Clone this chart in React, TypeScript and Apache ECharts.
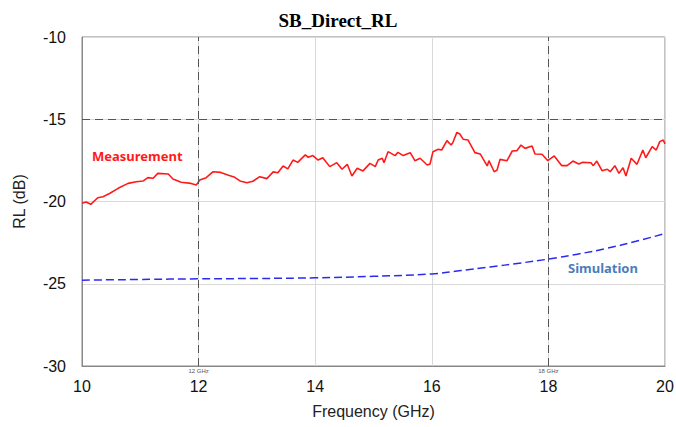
import React, { useEffect, useRef } from "react";
import * as echarts from "echarts";

const title = "SB_Direct_RL";
const xName = "Frequency (GHz)";
const yName = "RL (dB)";

const measFreq = [
  10.0, 10.07, 10.15, 10.27, 10.36, 10.48, 10.62, 10.79, 10.93, 11.05, 11.13, 11.22, 11.3, 11.48, 11.56,
  11.7, 11.87, 11.96, 12.02, 12.13, 12.25, 12.38, 12.5, 12.62, 12.71, 12.83, 12.93, 13.05, 13.17, 13.28,
  13.36, 13.45, 13.53, 13.62, 13.7, 13.83, 13.88, 13.96, 14.05, 14.13, 14.25, 14.37, 14.46, 14.55, 14.63,
  14.72, 14.82, 14.94, 15.03, 15.08, 15.15, 15.18, 15.25, 15.37, 15.42, 15.51, 15.63, 15.71, 15.8, 15.92,
  15.97, 16.02, 16.11, 16.17, 16.26, 16.33, 16.36, 16.43, 16.48, 16.54, 16.62, 16.74, 16.83, 16.95, 16.98,
  17.07, 17.12, 17.17, 17.29, 17.38, 17.46, 17.53, 17.6, 17.72, 17.77, 17.89, 17.99, 18.1, 18.23, 18.32,
  18.42, 18.52, 18.59, 18.73, 18.77, 18.83, 18.92, 19.01, 19.06, 19.14, 19.21, 19.28, 19.33, 19.42, 19.52,
  19.62, 19.67, 19.78, 19.85, 19.91, 19.97, 20.0,
];
const measRL = [
  -20.1, -20.03, -20.17, -19.77, -19.71, -19.5, -19.2, -18.9, -18.8, -18.75, -18.55, -18.59, -18.29, -18.33, -18.63,
  -18.83, -18.9, -19.0, -18.7, -18.55, -18.19, -18.23, -18.39, -18.53, -18.75, -18.86, -18.77, -18.49, -18.61, -18.2,
  -18.25, -17.84, -18.02, -17.48, -17.62, -17.17, -17.31, -17.21, -17.48, -17.34, -17.88, -17.64, -18.04, -17.74, -18.45,
  -17.98, -18.14, -17.68, -17.88, -17.48, -17.37, -17.64, -16.97, -17.21, -17.01, -17.21, -17.03, -17.52, -17.37, -17.78,
  -17.72, -16.97, -16.83, -16.87, -16.3, -16.57, -16.43, -15.8, -15.9, -16.22, -16.26, -17.03, -17.11, -17.84, -17.52,
  -18.19, -18.09, -17.44, -17.52, -16.93, -16.91, -16.57, -16.77, -16.63, -17.11, -17.13, -17.52, -17.23, -17.82, -17.82,
  -17.54, -17.72, -17.62, -17.64, -17.82, -17.54, -18.13, -18.04, -18.19, -17.82, -18.29, -17.95, -18.45, -17.37, -17.74,
  -16.87, -17.34, -16.67, -16.87, -16.36, -16.26, -16.5,
];

const simFreq = [10, 11, 12, 13, 14, 15, 16, 16.5, 17, 17.5, 18, 18.5, 19, 19.5, 20];
const simRL = [-24.78, -24.74, -24.7, -24.68, -24.64, -24.55, -24.4, -24.2, -23.98, -23.75, -23.5, -23.2, -22.85, -22.42, -21.95];

const markerFreqs = [12, 18];
const markerLabels = ["12 GHz", "18 GHz"];
const refLevel = -15;

const measLabel = "Measurement";
const simLabel = "Simulation";

export default function App() {
  const ref = useRef<HTMLDivElement>(null);
  useEffect(() => {
    if (!ref.current) return;
    const chart = echarts.init(ref.current, undefined, { renderer: "svg" });
    const font = "Liberation Sans, Arial, sans-serif";
    const dash = { color: "#555", width: 1, type: [8, 5] as any };
    chart.setOption({
      animation: false,
      backgroundColor: "#fff",
      title: {
        text: title,
        left: "center",
        top: 6,
        textStyle: { fontFamily: "Liberation Serif, Times New Roman, serif", fontWeight: "bold", fontSize: 19, color: "#000" },
      },
      grid: {
        left: 82, right: 11, top: 37, bottom: 61,
        containLabel: false, outerBoundsMode: "none",
        show: true, borderColor: "#888", borderWidth: 1,
      },
      xAxis: {
        type: "value",
        min: 10,
        max: 20,
        interval: 2,
        name: xName,
        nameLocation: "middle",
        nameGap: 37,
        nameTextStyle: { fontFamily: font, fontSize: 16, color: "#222" },
        axisLine: { show: true, lineStyle: { color: "#888" } },
        axisTick: { show: false },
        axisLabel: { fontFamily: font, fontSize: 16, color: "#111", margin: 12 },
        splitLine: { show: true, lineStyle: { color: "#d9d9d9" } },
      },
      yAxis: {
        type: "value",
        min: -30,
        max: -10,
        interval: 5,
        name: yName,
        nameLocation: "middle",
        nameGap: 55,
        nameTextStyle: { fontFamily: font, fontSize: 16, color: "#222" },
        axisLine: { show: true, lineStyle: { color: "#888" } },
        axisTick: { show: false },
        axisLabel: { fontFamily: font, fontSize: 16, color: "#111", margin: 16 },
        splitLine: { show: true, lineStyle: { color: "#d9d9d9" } },
      },
      series: [
        {
          name: measLabel,
          type: "line",
          data: measFreq.map((f, i) => [f, measRL[i]]),
          showSymbol: false,
          lineStyle: { color: "#ff1a1a", width: 1.6 },
          markLine: {
            silent: true,
            symbol: ["none", "none"],
            lineStyle: dash,
            data: [
              ...markerFreqs.map((f, i) => ({
                xAxis: f,
                label: { show: true, formatter: markerLabels[i], position: "start", distance: 2, fontSize: 6, color: "#555", fontFamily: font },
              })),
              { yAxis: refLevel, label: { show: false } },
            ],
          },
        },
        {
          name: simLabel,
          type: "line",
          data: simFreq.map((f, i) => [f, simRL[i]]),
          showSymbol: false,
          smooth: true,
          lineStyle: { color: "#2b2bf0", width: 1.5, type: [8, 4] },
        },
      ],
      graphic: [
        {
          type: "text",
          left: 92,
          top: 149,
          style: { text: measLabel, fill: "#ff1a1a", font: "bold 13px 'Noto Sans', sans-serif" },
        },
        {
          type: "text",
          left: 568,
          top: 261,
          style: { text: simLabel, fill: "#4a7ebb", font: "bold 13px 'Noto Sans', sans-serif" },
        },
      ],
    });
    return () => chart.dispose();
  }, []);
  return <div ref={ref} style={{ position: "absolute", left: 0, top: 0, width: 676, height: 427 }} />;
}
